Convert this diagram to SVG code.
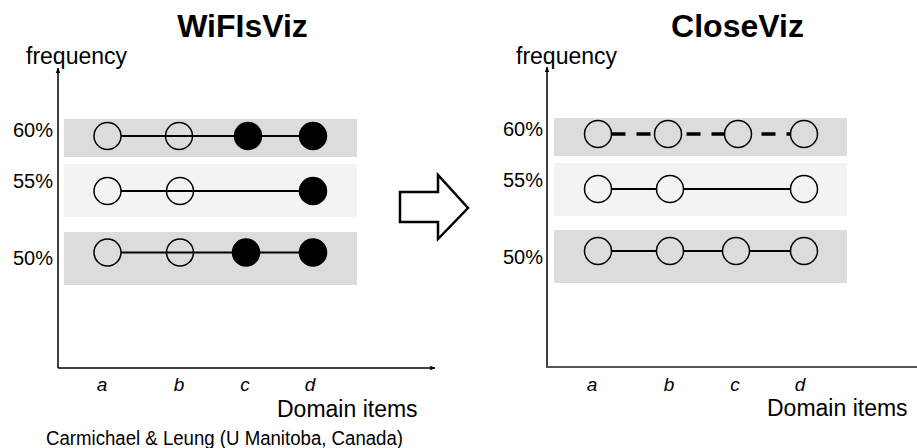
<svg xmlns="http://www.w3.org/2000/svg" width="917" height="448" viewBox="0 0 917 448">
<style>
  text { font-family: "Liberation Sans", Arial, sans-serif; fill: #000; }
  .title { font-size: 32px; font-weight: bold; text-anchor: middle; }
  .axlab { font-size: 23px; }
  .pct { font-size: 20px; text-anchor: end; }
  .item { font-size: 19px; font-style: italic; text-anchor: middle; }
  .credit { font-size: 20px; }
  .dark { fill: #dcdcdc; }
  .light { fill: #f3f3f3; }
  .hollow { fill: none; stroke: #000; stroke-width: 1.5; }
  .solid { fill: #000; stroke: #000; stroke-width: 1.5; }
  .rdark { fill: #dcdcdc; stroke: #000; stroke-width: 1.5; }
  .rlight { fill: #f3f3f3; stroke: #000; stroke-width: 1.5; }
  .link { stroke: #000; stroke-width: 2; fill: none; }
  .dash { stroke: #000; stroke-width: 3.5; stroke-dasharray: 14 11; fill: none; }
  .axis { stroke: #000; stroke-width: 1.5; fill: none; }
  .axis2 { stroke: #555; stroke-width: 2; fill: none; }
</style>
<defs>
  <marker id="ah" viewBox="0 0 10 10" refX="9" refY="5" markerWidth="6" markerHeight="6" orient="auto" markerUnits="userSpaceOnUse">
    <path d="M0,1 L10,5 L0,9 Z" fill="#000"/>
  </marker>
</defs>

<!-- Left panel -->
<g id="left-title"><text class="title" x="242.5" y="37">WiFIsViz</text></g>
<g id="left-axes">
  <line class="axis" x1="58" y1="368" x2="58" y2="68" marker-end="url(#ah)"/>
  <line class="axis" x1="58" y1="368" x2="435" y2="368" marker-end="url(#ah)"/>
  <text class="axlab" x="26" y="64">frequency</text>
  <text class="axlab" x="277" y="417">Domain items</text>
  <text class="item" x="102" y="391">a</text>
  <text class="item" x="179" y="391">b</text>
  <text class="item" x="245" y="391">c</text>
  <text class="item" x="310" y="391">d</text>
  <text class="pct" x="53" y="137">60%</text>
  <text class="pct" x="53" y="188">55%</text>
  <text class="pct" x="53" y="265">50%</text>
</g>
<g id="left-bands">
  <rect class="dark" x="64" y="119" width="293" height="38"/>
  <rect class="light" x="64" y="164" width="293" height="53"/>
  <rect class="dark" x="64" y="232" width="293" height="53"/>
</g>

<!-- Right panel -->
<g id="right-title"><text class="title" x="737.5" y="37">CloseViz</text></g>
<g id="right-axes">
  <line class="axis" x1="547" y1="367" x2="547" y2="67" marker-end="url(#ah)"/>
  <line class="axis2" x1="546" y1="367" x2="917" y2="367"/>
  <text class="axlab" x="516" y="64">frequency</text>
  <text class="axlab" x="767" y="416">Domain items</text>
  <text class="item" x="592" y="391">a</text>
  <text class="item" x="669" y="391">b</text>
  <text class="item" x="735" y="391">c</text>
  <text class="item" x="800" y="391">d</text>
  <text class="pct" x="543" y="136">60%</text>
  <text class="pct" x="543" y="187">55%</text>
  <text class="pct" x="543" y="264">50%</text>
</g>
<g id="right-bands">
  <rect class="dark" x="554" y="118" width="293" height="38"/>
  <rect class="light" x="554" y="163" width="293" height="53"/>
  <rect class="dark" x="554" y="230" width="293" height="53"/>
</g>

<!-- Connectors -->
<g id="connectors">
  <line class="link" x1="121" y1="136" x2="313" y2="136"/>
  <line class="link" x1="121" y1="191" x2="313" y2="191"/>
  <line class="link" x1="121" y1="252.5" x2="313" y2="252.5"/>
  <line class="dash" x1="611.5" y1="134" x2="790.5" y2="134"/>
  <line class="link" x1="598" y1="189" x2="804" y2="189"/>
  <line class="link" x1="598" y1="251" x2="804" y2="251"/>
</g>

<!-- Left nodes -->
<g id="L60a"><circle class="hollow" cx="107.5" cy="136" r="13.5"/></g>
<g id="L60b"><circle class="hollow" cx="179" cy="136" r="13.5"/></g>
<g id="L60c"><circle class="solid" cx="248" cy="136" r="13.5"/></g>
<g id="L60d"><circle class="solid" cx="313" cy="136" r="13.5"/></g>
<g id="L55a"><circle class="hollow" cx="107.5" cy="191" r="13.5"/></g>
<g id="L55b"><circle class="hollow" cx="180" cy="191" r="13.5"/></g>
<g id="L55d"><circle class="solid" cx="313" cy="191" r="13.5"/></g>
<g id="L50a"><circle class="hollow" cx="107.5" cy="252.5" r="13.5"/></g>
<g id="L50b"><circle class="hollow" cx="180" cy="252.5" r="13.5"/></g>
<g id="L50c"><circle class="solid" cx="246" cy="252.5" r="13.5"/></g>
<g id="L50d"><circle class="solid" cx="313" cy="252.5" r="13.5"/></g>

<!-- Right nodes -->
<g id="R60a"><circle class="rdark" cx="598" cy="134" r="13.5"/></g>
<g id="R60b"><circle class="rdark" cx="668" cy="134" r="13.5"/></g>
<g id="R60c"><circle class="rdark" cx="738" cy="134" r="13.5"/></g>
<g id="R60d"><circle class="rdark" cx="804" cy="134" r="13.5"/></g>
<g id="R55a"><circle class="rlight" cx="598" cy="189" r="13.5"/></g>
<g id="R55b"><circle class="rlight" cx="670" cy="189" r="13.5"/></g>
<g id="R55d"><circle class="rlight" cx="804" cy="189" r="13.5"/></g>
<g id="R50a"><circle class="rdark" cx="598" cy="251" r="13.5"/></g>
<g id="R50b"><circle class="rdark" cx="670" cy="251" r="13.5"/></g>
<g id="R50c"><circle class="rdark" cx="736" cy="251" r="13.5"/></g>
<g id="R50d"><circle class="rdark" cx="804" cy="251" r="13.5"/></g>

<!-- Block arrow -->
<g id="transform-arrow">
  <path d="M400,192 L438,192 L438,175 L468,208 L438,239 L438,222 L400,222 Z" fill="#fff" stroke="#000" stroke-width="2.5"/>
</g>

<g id="credit"><text class="credit" x="46" y="445" textLength="357" lengthAdjust="spacingAndGlyphs">Carmichael &amp; Leung (U Manitoba, Canada)</text></g>
</svg>
